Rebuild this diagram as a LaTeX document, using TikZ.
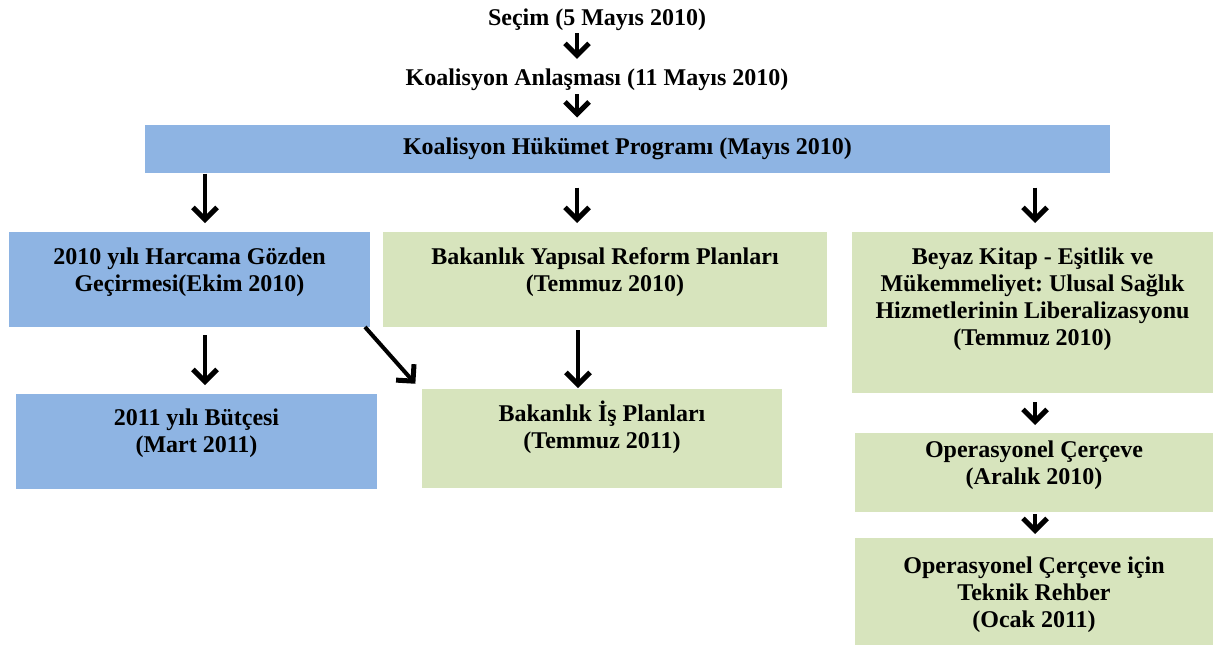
\documentclass[tikz,border=0pt]{standalone}
\usepackage{fontspec}
\setmainfont{Liberation Serif}
\frenchspacing
\usetikzlibrary{arrows.meta}

\definecolor{boxblue}{HTML}{8EB4E3}
\definecolor{boxgreen}{HTML}{D7E4BD}

\tikzset{
  txt/.style={font=\bfseries\fontsize{24}{27}\selectfont, align=center, inner sep=0pt},
  box/.style={rectangle, inner sep=0pt, outer sep=0pt},
  bluebox/.style={box, fill=boxblue},
  greenbox/.style={box, fill=boxgreen},
  arr/.style={-{Straight Barb[length=12pt,width=24pt,line width=5pt]}, line width=4pt},
}

\begin{document}
\begin{tikzpicture}[x=1pt,y=-1pt]
  \useasboundingbox (0,0) rectangle (1216,646);
  % boxes: centre, width, height
  \node[bluebox, minimum width=965, minimum height=48] (prog) at (627.5,148.5) {};
  \node[bluebox, minimum width=361, minimum height=95] (hgr) at (189.5,279.5) {};
  \node[greenbox, minimum width=444, minimum height=95] (ysrp) at (605,279.5) {};
  \node[greenbox, minimum width=361, minimum height=161] (beyaz) at (1032.5,312.5) {};
  \node[bluebox, minimum width=361, minimum height=95] (butce) at (196.5,441.5) {};
  \node[greenbox, minimum width=360, minimum height=99] (isplan) at (602,438.5) {};
  \node[greenbox, minimum width=358, minimum height=79] (opc) at (1034,472.5) {};
  \node[greenbox, minimum width=358, minimum height=107] (rehber) at (1034,591.5) {};
  % texts
  \node[txt] (secim) at (597,20) {Seçim (5 Mayıs 2010)};
  \node[txt] (anlasma) at (597,80) {Koalisyon Anlaşması (11 Mayıs 2010)};
  \node[txt] (progtext) at (prog.center) {Koalisyon Hükümet Programı (Mayıs 2010)};
  \node[txt] (hgrtext) at ([yshift=7]hgr.center) {2010 yılı Harcama Gözden\\Geçirmesi(Ekim 2010)};
  \node[txt] (ysrptext) at ([yshift=7]ysrp.center) {Bakanlık Yapısal Reform Planları\\(Temmuz 2010)};
  \node[txt] (beyaztext) at ([yshift=13]beyaz.center) {Beyaz Kitap - Eşitlik ve\\Mükemmeliyet: Ulusal Sağlık\\Hizmetlerinin Liberalizasyonu\\(Temmuz 2010)};
  \node[txt] (butcetext) at ([yshift=8]butce.center) {2011 yılı Bütçesi\\(Mart 2011)};
  \node[txt] (isplantext) at ([yshift=11]isplan.center) {Bakanlık İş Planları\\(Temmuz 2011)};
  \node[txt] (opctext) at ([yshift=7]opc.center) {Operasyonel Çerçeve\\(Aralık 2010)};
  \node[txt] (rehbertext) at ([yshift=-3]rehber.center) {Operasyonel Çerçeve için\\Teknik Rehber\\(Ocak 2011)};
  % arrows
  \draw[arr, shorten <=2pt, shorten >=10pt] ([xshift=-20]secim.south) -- ([xshift=-20]anlasma.north);
  \draw[arr, shorten <=3pt, shorten >=7pt] ([xshift=-20]anlasma.south) -- ([xshift=-50.5]prog.north);
  \draw[arr, shorten <=1pt, shorten >=9pt] ([xshift=15.5]hgr.north |- prog.south) -- ([xshift=15.5]hgr.north);
  \draw[arr, shorten <=15pt, shorten >=9pt] ([xshift=-28]ysrp.north |- prog.south) -- ([xshift=-28]ysrp.north);
  \draw[arr, shorten <=15pt, shorten >=9pt] ([xshift=2.5]beyaz.north |- prog.south) -- ([xshift=2.5]beyaz.north);
  \draw[arr, shorten <=8pt, shorten >=9pt] ([xshift=15.5]hgr.south) -- ([xshift=8.5]butce.north);
  \draw[arr, shorten <=0pt, shorten >=7pt] ([xshift=-5]hgr.south east) -- ([xshift=-2]isplan.north west);
  \draw[arr, shorten <=3pt, shorten >=1pt] ([xshift=-27]ysrp.south) -- ([xshift=-24]isplan.north);
  \draw[arr, shorten <=9pt, shorten >=8pt] ([xshift=2.5]beyaz.south) -- ([xshift=1]opc.north);
  \draw[arr, shorten <=2pt, shorten >=4pt] ([xshift=1]opc.south) -- ([xshift=1]rehber.north);
\end{tikzpicture}
\end{document}
